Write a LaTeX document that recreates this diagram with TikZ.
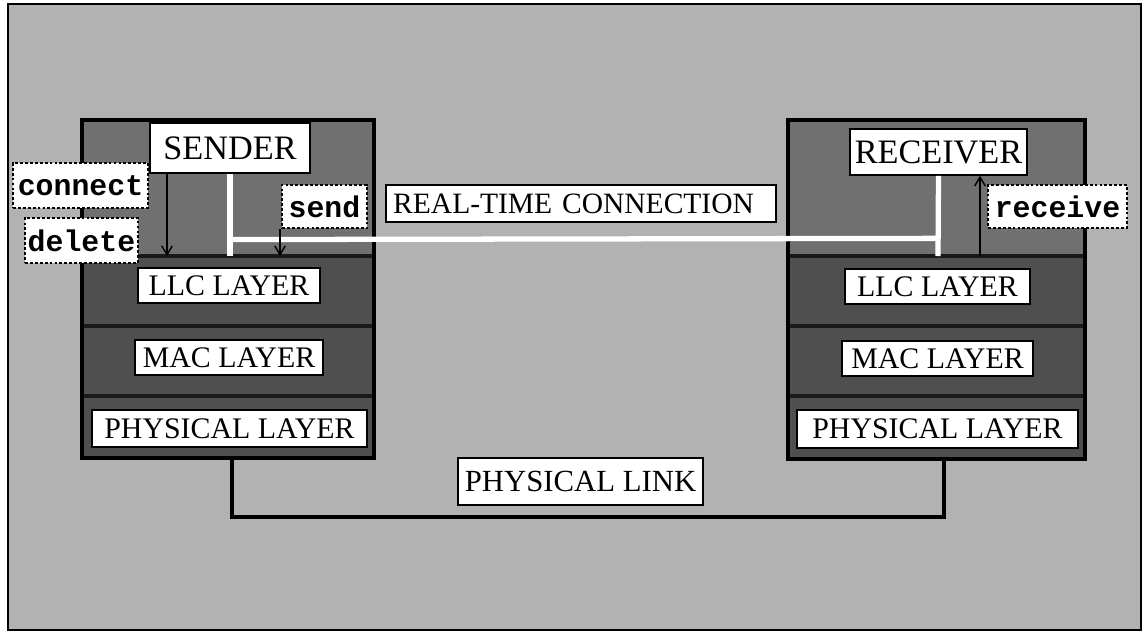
\documentclass[tikz,border=0pt]{standalone}
\usepackage{fontspec}
\setmainfont{Liberation Serif}
\setmonofont{Liberation Mono}
\usetikzlibrary{arrows.meta,positioning,calc}
\tikzset{every picture/.style={line width=0.75pt}}
\definecolor{paper}{gray}{0.70}
\definecolor{appgray}{gray}{0.44}
\definecolor{layergray}{gray}{0.31}

\begin{document}
\begin{tikzpicture}[
    x=0.02cm, y=-0.02cm,
    stack/.style={draw=black,line width=2.2pt,fill=appgray},
    band/.style={draw=black!90,line width=1.8pt,fill=layergray},
    layer/.style={draw,fill=white,line width=0.9pt,inner sep=0pt,font=\fontsize{17}{17}\selectfont},
    endpoint/.style={draw,fill=white,line width=0.9pt,inner sep=0pt,font=\fontsize{19.5}{19.5}\selectfont},
    prim/.style={draw,fill=white,dash pattern=on 1.6pt off 1.2pt,line width=1.3pt,inner sep=0pt,font=\ttfamily\bfseries\fontsize{17}{17}\selectfont},
    rtline/.style={white,line width=3pt},
    callarrow/.style={-{Straight Barb[length=5pt,width=6pt]},line width=0.8pt},
    link/.style={line width=1.8pt}
]
    \useasboundingbox (0,0) rectangle (1144,633);

    % Frame
    \draw[fill=paper,line width=1.5pt] (8,4) rectangle (1141,630);

    % Sender stack
    \draw[stack] (82,120) rectangle (374,458);
    \draw[band] (82,256) rectangle (374,326);
    \draw[band] (82,326) rectangle (374,396);
    \draw[band] (82,396) rectangle (374,458);
    \draw[black,line width=2.4pt] (82,120) rectangle (374,458);

    % Receiver stack
    \draw[stack] (788,120) rectangle (1085,459);
    \draw[band] (788,256) rectangle (1085,326);
    \draw[band] (788,326) rectangle (1085,396);
    \draw[band] (788,396) rectangle (1085,459);
    \draw[black,line width=2.4pt] (788,120) rectangle (1085,459);

    % End points
    \node[endpoint,minimum width=3.2cm,minimum height=1.0cm] (sender) at (230,148) {SENDER};
    \node[endpoint,minimum width=3.54cm,minimum height=0.92cm] (receiver) at (938.5,152) {RECEIVER};

    % Layers
    \node[layer,minimum width=3.64cm,minimum height=0.7cm] (sllc) at (229,285.5) {LLC LAYER};
    \node[layer,minimum width=3.76cm,minimum height=0.7cm] (smac) at (229,357.5) {MAC LAYER};
    \node[layer,minimum width=5.5cm,minimum height=0.74cm] (sphy) at (229.5,428.5) {PHYSICAL LAYER};
    \node[layer,minimum width=3.7cm,minimum height=0.7cm] (rllc) at (937.5,286.5) {LLC LAYER};
    \node[layer,minimum width=3.82cm,minimum height=0.7cm] (rmac) at (937.5,358.5) {MAC LAYER};
    \node[layer,minimum width=5.62cm,minimum height=0.76cm] (rphy) at (937.5,429) {PHYSICAL LAYER};

    % Primitives
    \node[prim,minimum width=2.7cm,minimum height=0.9cm] (connect) at (80.5,185.5) {connect};
    \node[prim,minimum width=2.26cm,minimum height=0.9cm] (delete) at (81.5,240.5) {delete};
    \node[prim,minimum width=1.7cm,minimum height=0.86cm] (send) at (324.5,206.5) {send};
    \node[prim,minimum width=2.78cm,minimum height=0.86cm] (receive) at (1057.5,206.5) {receive};

    % Connection labels
    \node[draw,fill=white,line width=1.4pt,anchor=west,text width=7.52cm,inner xsep=0.14cm,
          minimum height=0.74cm,align=left,font=\fontsize{16.8}{16.8}\selectfont] (rtc) at (385,203.5) {REAL-TIME CONNECTION};
    \node[draw,fill=white,line width=1.2pt,minimum width=4.9cm,minimum height=0.94cm,inner sep=0pt,
          font=\fontsize{17.5}{17.5}\selectfont] (plink) at (580.5,481.5) {PHYSICAL LINK};

    % Real-time connection
    \coordinate (sapp) at (230,256);
    \coordinate (rapp) at (938,256);
    \draw[rtline] (sender.south) -- (sapp);
    \draw[rtline] (receiver.south) -- (rapp);
    \draw[rtline] ($(sender.south)!0.8!(sapp)$) -- ($(receiver.south)!0.78!(rapp)$);

    % Service calls
    \coordinate (cdown) at (167,256);
    \coordinate (sdown) at (280,256);
    \coordinate (rup) at (980,256);
    \draw[callarrow] (cdown |- sender.south) -- (cdown);
    \draw[callarrow] (sdown |- send.south) -- (sdown);
    \draw[callarrow] (rup) -- (rup |- receiver.south);

    % Physical link
    \coordinate (sbot) at (232,458);
    \coordinate (rbot) at (944,459);
    \draw[link] (sbot) -- ++(0,59) -| (rbot);
\end{tikzpicture}
\end{document}
